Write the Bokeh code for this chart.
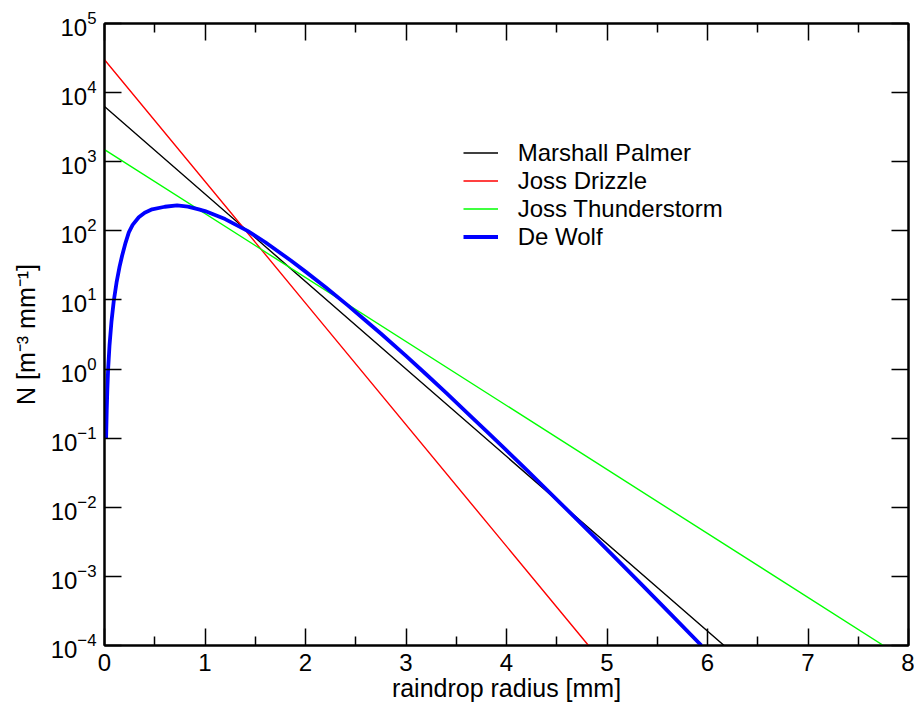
from bokeh.plotting import figure
from bokeh.models import (FixedTicker, LogTickFormatter, LinearAxis, LogAxis,
                          Legend, LegendItem, Range1d, CustomJSTickFormatter)
from bokeh.embed import file_html
from bokeh.resources import INLINE

FONT = "Liberation Sans"

# ---------------- data ----------------
x_ticks = [0, 1, 2, 3, 4, 5, 6, 7, 8]
x_minor_ticks = [0.5, 1.5, 2.5, 3.5, 4.5, 5.5, 6.5, 7.5]
y_ticks = [1e-4, 1e-3, 1e-2, 1e-1, 1e0, 1e1, 1e2, 1e3, 1e4, 1e5]

x_title = "raindrop radius [mm]"
y_title = "N [m\u207b\u00b3 mm\u207b\u00b9]"

series_names = ["Marshall Palmer", "Joss Drizzle", "Joss Thunderstorm", "De Wolf"]

# raindrop radius [mm] and N [m^-3 mm^-1]
mp_r = [0.0, 3.0, 6.165]
mp_n = [6300.0, 1.0, 1e-4]

jd_r = [0.0, 2.0, 4.816]
jd_n = [30000.0, 9.0, 1e-4]

jt_r = [0.0, 4.0, 7.751]
jt_n = [1500.0, 0.297, 1e-4]

dw_r = [0.016, 0.022, 0.028, 0.036, 0.05, 0.07, 0.0925, 0.12, 0.15, 0.175,
        0.21, 0.242, 0.28, 0.341, 0.40, 0.474, 0.60, 0.722, 0.83, 0.938,
        1.0, 1.2, 1.423, 1.6, 1.854, 2.0, 2.2, 2.418, 2.6, 2.749,
        3.0, 3.2, 3.4, 3.645, 3.8, 4.0, 4.2, 4.341, 4.523, 4.7,
        4.84, 5.1, 5.336, 5.6, 5.94]
dw_n = [0.1, 0.247, 0.490, 1.0, 2.21, 4.97, 9.73, 17.9, 30.3, 43.6,
        67.6, 95.1, 122.0, 157.0, 183.0, 205.0, 223.0, 233.0, 224.0, 204.0,
        193.0, 148.0, 100.0, 68.4, 37.2, 25.7, 15.3, 8.41, 5.01, 3.27,
        1.55, 0.841, 0.452, 0.207, 0.126, 0.0664, 0.0347, 0.0219, 0.0120, 0.00668,
        0.00419, 0.00175, 0.000785, 0.000319, 1e-4]

# ---------------- figure ----------------
p = figure(width=914, height=704,
           x_range=Range1d(0, 8), y_range=Range1d(1e-4, 1e5),
           y_axis_type="log", output_backend="svg", toolbar_location=None,
           min_border_left=104, min_border_right=6, min_border_top=23,
           min_border_bottom=59)
p.xgrid.visible = False
p.ygrid.visible = False
p.outline_line_color = "black"
p.outline_line_width = 2
p.background_fill_color = "white"
p.border_fill_color = "white"

x_ticker = FixedTicker(ticks=x_ticks, minor_ticks=x_minor_ticks)
y_ticker = FixedTicker(ticks=y_ticks, minor_ticks=[])
blank = CustomJSTickFormatter(code="return '';")


def style_axis(ax, labels=True):
    ax.axis_line_color = "black"
    ax.axis_line_width = 2
    ax.major_tick_line_color = "black"
    ax.major_tick_line_width = 1.5
    ax.minor_tick_line_color = "black"
    ax.minor_tick_line_width = 1.5
    ax.major_tick_in = 17
    ax.major_tick_out = 0
    ax.minor_tick_in = 9
    ax.minor_tick_out = 0
    ax.major_label_text_font = FONT
    ax.major_label_text_color = "black"
    ax.axis_label_text_font = FONT
    ax.axis_label_text_font_style = "normal"
    ax.axis_label_text_color = "black"
    ax.axis_label_text_font_size = "25px"
    if labels:
        ax.major_label_text_font_size = "24px"
    else:
        ax.formatter = blank
        ax.major_label_text_font_size = "1px"
        ax.major_label_standoff = 0


xa = p.xaxis[0]
xa.ticker = x_ticker
style_axis(xa)
xa.major_label_standoff = 8
xa.axis_label = x_title
xa.axis_label_standoff = 0

ya = p.yaxis[0]
ya.ticker = y_ticker
ya.formatter = LogTickFormatter()
style_axis(ya)
ya.minor_tick_line_color = None
ya.major_label_standoff = 8
ya.axis_label = y_title
ya.axis_label_standoff = 8

top = LinearAxis(ticker=x_ticker)
style_axis(top, labels=False)
p.add_layout(top, "above")

right = LogAxis(ticker=y_ticker)
style_axis(right, labels=False)
right.minor_tick_line_color = None
p.add_layout(right, "right")

# ---------------- lines ----------------
r_mp = p.line(mp_r, mp_n, line_color="#000000", line_width=1.4)
r_jd = p.line(jd_r, jd_n, line_color="#ff0000", line_width=1.4)
r_jt = p.line(jt_r, jt_n, line_color="#00ff00", line_width=1.4)
r_dw = p.line(dw_r, dw_n, line_color="#0000ff", line_width=3.8,
              line_join="round")

legend = Legend(
    items=[LegendItem(label=n, renderers=[r]) for n, r in
           zip(series_names, [r_mp, r_jd, r_jt, r_dw])],
    location=(358.7, 394.2), padding=0, margin=0, spacing=0,
    border_line_color=None, background_fill_alpha=0,
    label_text_font=FONT, label_text_font_size="24px", label_text_color="black",
    glyph_width=35, glyph_height=27, label_height=27, label_standoff=20)
p.add_layout(legend)

open("out.html", "w").write(file_html(p, INLINE))
